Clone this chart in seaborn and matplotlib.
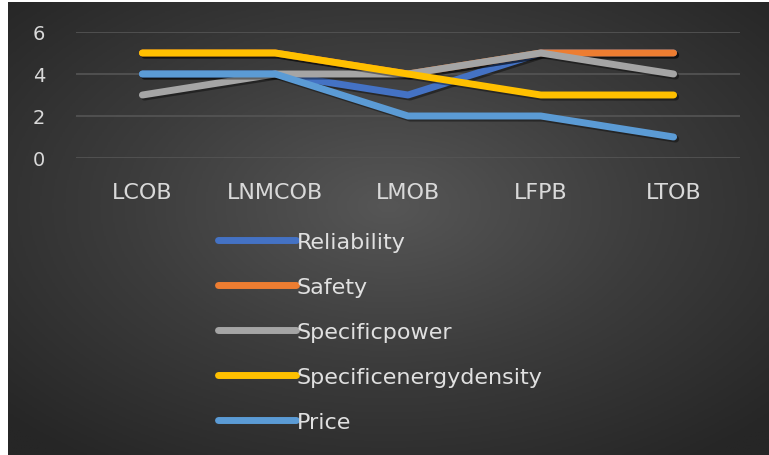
import numpy as np
import pandas as pd
import matplotlib
matplotlib.use("Agg")
import matplotlib.pyplot as plt
import matplotlib.patheffects as pe
import seaborn as sns

categories = ["LCOB", "LNMCOB", "LMOB", "LFPB", "LTOB"]
reliability = [4, 4, 3, 5, 5]
safety = [5, 5, 4, 5, 5]
specific_power = [3, 4, 4, 5, 4]
specific_energy = [5, 5, 4, 3, 3]
price = [4, 4, 2, 2, 1]

series_names = ["Reliability", "Safety", "Specificpower",
                "Specificenergydensity", "Price"]
series_values = [reliability, safety, specific_power, specific_energy, price]
colors = ["#4472C4", "#ED7D31", "#A5A5A5", "#FFC000", "#5B9BD5"]

df = pd.concat([
    pd.DataFrame({"battery": categories, "score": vals, "criterion": name})
    for name, vals in zip(series_names, series_values)
])

sns.set_style("white")
plt.rcParams["font.family"] = ["DejaVu Sans"]

fig = plt.figure(figsize=(7.69, 4.56), dpi=100, facecolor="white")

# dark panel with a soft radial gradient, like the office chart style
bg = fig.add_axes([8 / 769, 0, 761 / 769, 453 / 456])
yy, xx = np.mgrid[-1:1:300j, -1:1:500j]
r = np.sqrt((xx * 0.9) ** 2 + ((yy + 0.1) * 0.9) ** 2)
bg.imshow(r, cmap=matplotlib.colors.LinearSegmentedColormap.from_list(
    "bg", ["#565656", "#3c3c3c", "#262626"]), aspect="auto",
    extent=[0, 1, 0, 1], vmin=0, vmax=1.25)
bg.set_axis_off()

ax = fig.add_axes([76 / 769, 1 - 159 / 456, 664 / 769, 126 / 456])
ax.patch.set_alpha(0)
for loc in [0, 2, 4, 6]:
    ax.axhline(loc, color="#555555", lw=1.2, zorder=0)

sns.lineplot(data=df, x="battery", y="score", hue="criterion",
             hue_order=series_names, palette=colors, sort=False,
             linewidth=5, solid_capstyle="round", solid_joinstyle="round",
             ax=ax, legend=False)
for line in ax.get_lines()[4:]:
    line.set_path_effects([pe.SimpleLineShadow(offset=(1.5, -1.5), alpha=0.4),
                           pe.Normal()])

ax.set_xlim(-0.5, 4.5)
ax.set_ylim(0, 6)
ax.set_yticks([0, 2, 4, 6])
ax.set_xlabel("")
ax.set_ylabel("")
sns.despine(ax=ax, left=True, bottom=True)
ax.tick_params(axis="both", length=0, colors="#d9d9d9")
ax.tick_params(axis="x", pad=17, labelsize=16)
ax.tick_params(axis="y", pad=22, labelsize=14)

handles = [plt.Line2D([], [], color=c, lw=5, solid_capstyle="round")
           for c in colors]
leg = fig.legend(handles, series_names, loc="upper left",
                 bbox_to_anchor=(218 / 769, 1 - 233 / 456), frameon=False,
                 fontsize=16, handlelength=3.5, handletextpad=0.05,
                 labelspacing=1.12, borderpad=0, borderaxespad=0)
for t in leg.get_texts():
    t.set_color("#e0e0e0")

fig.savefig("out.png", dpi=100, facecolor="white")
